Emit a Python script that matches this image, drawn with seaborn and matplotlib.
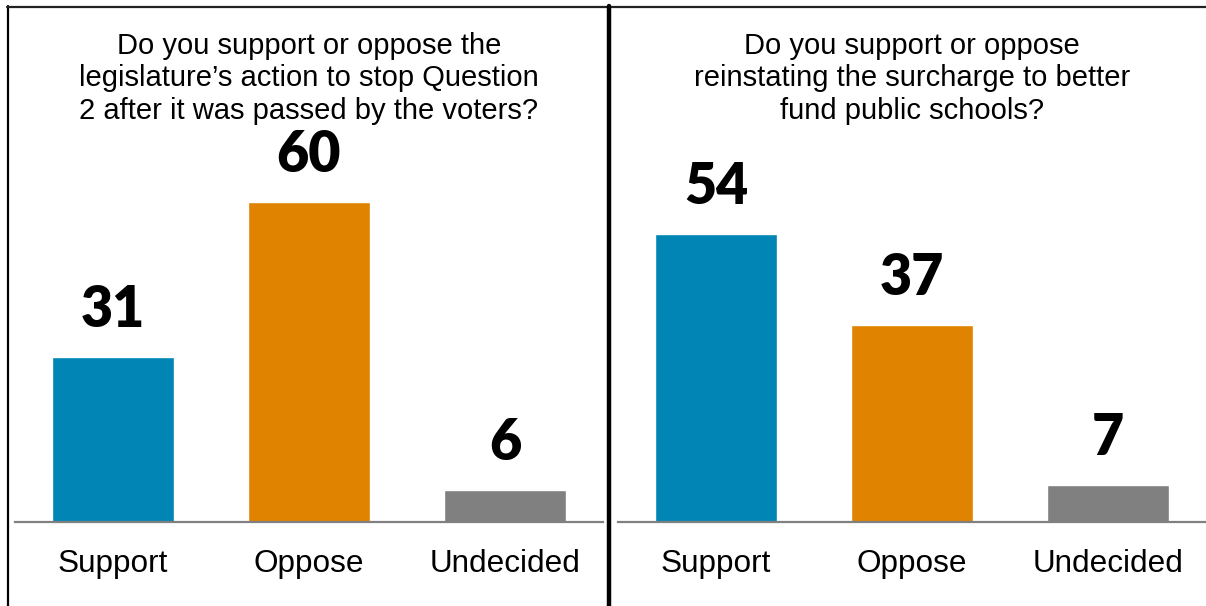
import matplotlib
matplotlib.use("Agg")
import matplotlib.pyplot as plt
from matplotlib.lines import Line2D
import seaborn as sns
import pandas as pd

categories = ["Support", "Oppose", "Undecided"]
left_values = [31, 60, 6]
right_values = [54, 37, 7]
left_title = "Do you support or oppose the\nlegislature\u2019s action to stop Question\n2 after it was passed by the voters?"
right_title = "Do you support or oppose\nreinstating the surcharge to better\nfund public schools?"
colors = ["#0085B5", "#DF8300", "#808080"]

sns.set_theme(style="white")
plt.rcParams['font.family'] = ['Liberation Sans', 'DejaVu Sans']

W, H = 1206, 606
fig = plt.figure(figsize=(W / 100, H / 100), dpi=100)
fig.patch.set_facecolor("white")

panels = [
    (15, left_values, left_title),
    (618, right_values, right_title),
]
palette = dict(zip(categories, colors))
for x0, vals, title in panels:
    ax = fig.add_axes([x0 / W, 84 / H, 588 / W, 371 / H])
    df = pd.DataFrame({"cat": categories, "val": vals})
    sns.barplot(data=df, x="cat", y="val", hue="cat", palette=palette,
                width=0.62, saturation=1, legend=False, ax=ax)
    ax.set_xlim(-0.5, 2.5)
    ax.set_ylim(0, 69.6)
    ax.set_xlabel("")
    ax.set_ylabel("")
    ax.set_yticks([])
    for s in ["top", "right", "left"]:
        ax.spines[s].set_visible(False)
    ax.spines["bottom"].set_color("#808080")
    ax.spines["bottom"].set_linewidth(1.6)
    ax.tick_params(axis="x", length=0, pad=19.5, labelsize=22.7, colors="black")
    ax.set_facecolor("none")
    for i, v in enumerate(vals):
        ax.annotate(str(v), (i, v), xytext=(0, 21.5), textcoords="offset points",
                    ha="center", va="baseline", fontsize=40, fontweight="heavy",
                    family="Lato", color="black")
    cx = (x0 + 294) / W
    fig.text(cx, 1 - 78.5 / H, title, ha="center", va="center",
             fontsize=21, linespacing=1.2, color="black")

# frame lines
fig.add_artist(Line2D([7.5 / W, 7.5 / W], [0, 1 - 6 / H], color="black", lw=1.6))
fig.add_artist(Line2D([7 / W, 1], [1 - 6.5 / H, 1 - 6.5 / H], color="#222222", lw=1.6))
fig.add_artist(Line2D([609.5 / W, 609.5 / W], [0, 1 - 6 / H], color="black", lw=3.2))

fig.savefig("out.png", dpi=100, facecolor="white")
